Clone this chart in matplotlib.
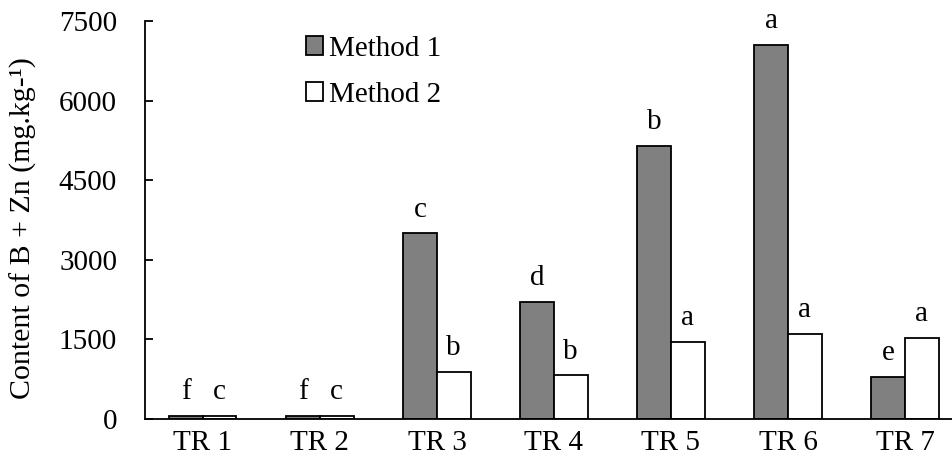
import matplotlib
matplotlib.use("Agg")
import matplotlib.pyplot as plt
import numpy as np

plt.rcParams['font.family'] = ['Liberation Serif', 'DejaVu Serif']

categories = ["TR 1", "TR 2", "TR 3", "TR 4", "TR 5", "TR 6", "TR 7"]
method1 = [60, 65, 3500, 2210, 5150, 7050, 800]
method2 = [60, 65, 890, 820, 1450, 1600, 1530]
letters1 = ["f", "f", "c", "d", "b", "a", "e"]
letters2 = ["c", "c", "b", "b", "a", "a", "a"]
yticks = [0, 1500, 3000, 4500, 6000, 7500]

fs = 21

fig = plt.figure(figsize=(9.53, 4.67), dpi=100)
ax = fig.add_axes([0.152, 0.1028, 0.848, 0.8522])

x = np.arange(len(categories))
w = 0.287
ax.bar(x - w / 2, method1, w, color="#808080", edgecolor="black",
       linewidth=1.3, label="Method 1")
ax.bar(x + w / 2, method2, w, color="white", edgecolor="black",
       linewidth=1.3, label="Method 2")

# significance letters above each bar
for xi, v, t in zip(x - w / 2, method1, letters1):
    ax.annotate(t, (xi, v), xytext=(0, 12), textcoords="offset points",
                ha="center", va="baseline", fontsize=fs)
for xi, v, t in zip(x + w / 2, method2, letters2):
    ax.annotate(t, (xi, v), xytext=(0, 12), textcoords="offset points",
                ha="center", va="baseline", fontsize=fs)

ax.set_xlim(-0.496, 6.41)
ax.set_ylim(0, 7500)
ax.set_yticks(yticks)
ax.set_xticks(x)
ax.set_xticklabels(categories)
ax.tick_params(axis="y", direction="in", length=6, width=1.3, pad=20, labelsize=fs)
ax.tick_params(axis="x", length=0, pad=8, labelsize=fs)

for s in ["top", "right"]:
    ax.spines[s].set_visible(False)
for s in ["left", "bottom"]:
    ax.spines[s].set_linewidth(1.3)

ax.set_ylabel("Content of B + Zn (mg.kg-¹)", fontsize=21.5)
ax.yaxis.set_label_coords(-0.134, 0.48)

ax.legend(loc="upper left", bbox_to_anchor=(0.192, 0.978), frameon=False,
          fontsize=fs, handlelength=0.6, handleheight=0.6, handletextpad=0.2,
          labelspacing=0.7, borderpad=0.2, borderaxespad=0)

fig.savefig("out.png", dpi=100)
